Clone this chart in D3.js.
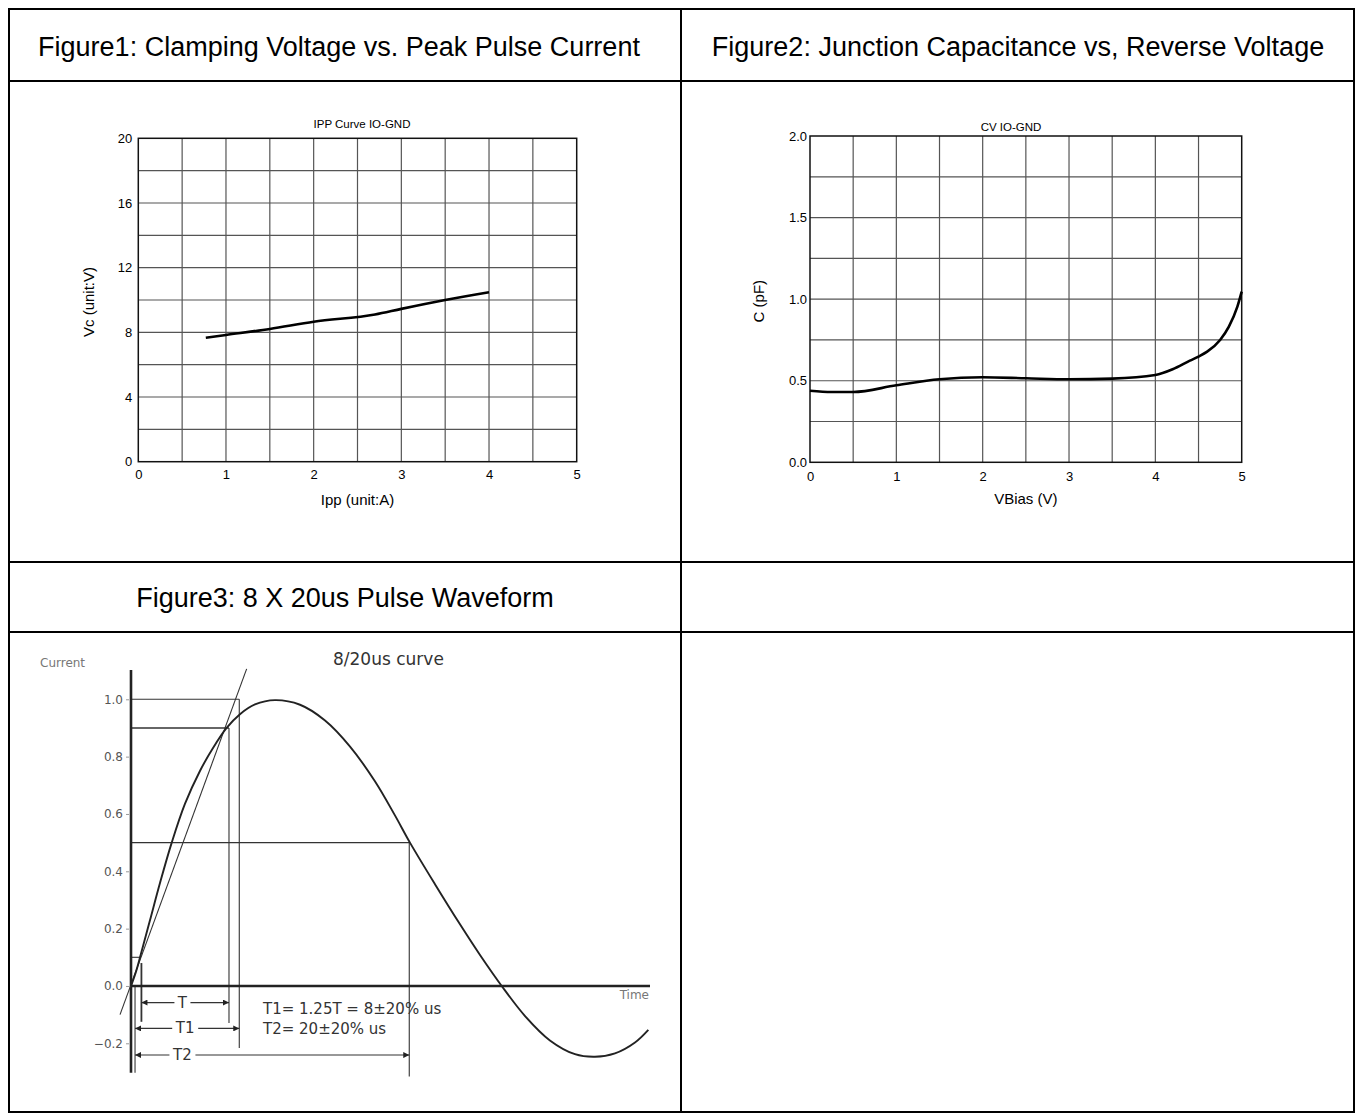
<!DOCTYPE html>
<html>
<head>
<meta charset="utf-8">
<script src="https://cdn.jsdelivr.net/npm/d3@7"></script>
<style>
  html, body { margin: 0; padding: 0; background: #fff; }
  svg { display: block; }
</style>
</head>
<body>
<script>
// ---------------- DATA ----------------
const headers = [
  "Figure1: Clamping Voltage vs. Peak Pulse Current",
  "Figure2: Junction Capacitance vs, Reverse Voltage",
  "Figure3: 8 X 20us Pulse Waveform"
];

// Figure 1
const fig1Ipp = [0.77, 1.0, 1.5, 2.0, 2.7, 3.0, 3.5, 4.0];
const fig1Vc  = [7.67, 7.84, 8.21, 8.66, 9.1, 9.45, 10.0, 10.48];
const fig1XTicks = [0, 1, 2, 3, 4, 5];
const fig1YTicks = [0, 4, 8, 12, 16, 20];
const fig1XGrid = [0.5, 1, 1.5, 2, 2.5, 3, 3.5, 4, 4.5];
const fig1YGrid = [2, 4, 6, 8, 10, 12, 14, 16, 18];

// Figure 2
const fig2V = [0, 0.25, 0.5, 1, 1.5, 2, 2.5, 3, 3.5, 4, 4.2, 4.4, 4.5, 4.6, 4.75, 4.85, 4.95, 5.0];
const fig2C = [0.439, 0.431, 0.431, 0.472, 0.509, 0.521, 0.515, 0.509, 0.513, 0.535, 0.57, 0.623, 0.648, 0.678, 0.75, 0.83, 0.954, 1.046];
const fig2XTicks = [0, 1, 2, 3, 4, 5];
const fig2YTicks = [0, 0.5, 1.0, 1.5, 2.0];
const fig2XGrid = [0.5, 1, 1.5, 2, 2.5, 3, 3.5, 4, 4.5];
const fig2YGrid = [0.25, 0.5, 0.75, 1.0, 1.25, 1.5, 1.75];

// Figure 3 (time in us, current normalised)
const waveT = [0, 0.36, 0.65, 1.37, 2.09, 2.93, 3.88, 4.96, 5.90, 6.88, 7.84, 8.92, 10.36,
               12.16, 13.96, 15.76, 17.55, 18.99, 20.07, 21.87, 23.67, 25.11, 26.67,
               28.35, 30.14, 31.94, 33.38, 34.82, 36.26, 37.22];
const waveI = [0, 0.05, 0.1, 0.23, 0.36, 0.5, 0.635, 0.75, 0.83, 0.9, 0.948, 0.982, 0.997,
               0.981, 0.926, 0.835, 0.714, 0.595, 0.5, 0.355, 0.215, 0.108, 0,
               -0.105, -0.19, -0.238, -0.247, -0.235, -0.197, -0.153];
const tangentT = [-0.79, 8.32];
const tangentI = [-0.1, 1.106];
const fig3YTicks = [1.0, 0.8, 0.6, 0.4, 0.2, 0.0, -0.2];
// reference horizontal levels
const levelI   = [1.0, 0.9, 0.5, 0.1];
const levelEnd = [7.79, 7.05, 20.02, 0.7];
// vertical reference lines
const vertT   = [7.79, 7.05, 0.75, 0.29, 20.02];
const vertTop = [1.0, 0.9, 0.08, 0.0, 0.5];
const vertBot = [-0.216, -0.129, -0.125, -0.303, -0.316];
// dimension arrows
const dimLabels = ["T", "T1", "T2"];
const dimI      = [-0.058, -0.148, -0.241];
const dimStart  = [0.75, 0.29, 0.29];
const dimEnd    = [7.05, 7.79, 20.02];
const dimLabelT = [3.7, 3.9, 3.7];
const notes = ["T1= 1.25T = 8\u00B120% us", "T2= 20\u00B120% us"];

// ---------------- DRAW ----------------
const W = 1357, H = 1117;
const svg = d3.select("body").append("svg").attr("width", W).attr("height", H);
svg.append("rect").attr("width", W).attr("height", H).attr("fill", "#fff");

// table frame
const tbl = svg.append("g").attr("stroke", "#000").attr("stroke-width", 2).attr("fill", "none");
tbl.append("rect").attr("x", 9).attr("y", 9).attr("width", 1345).attr("height", 1103);
tbl.append("line").attr("x1", 681).attr("x2", 681).attr("y1", 9).attr("y2", 1112);
[81, 562, 632].forEach(yv => tbl.append("line").attr("x1", 9).attr("x2", 1354).attr("y1", yv).attr("y2", yv));

const hdrPos = [[339, 47], [1018, 47], [345, 598]];
svg.selectAll("text.hdr").data(headers).join("text")
  .attr("class", "hdr")
  .attr("x", (d, i) => hdrPos[i][0]).attr("y", (d, i) => hdrPos[i][1])
  .attr("text-anchor", "middle").attr("dominant-baseline", "central")
  .attr("font-family", "Liberation Sans, Arial, sans-serif").attr("font-size", 27)
  .attr("fill", "#000").text(d => d);

function gridChart(cfg) {
  const x = d3.scaleLinear().domain(cfg.xDomain).range([cfg.x0, cfg.x1]);
  const y = d3.scaleLinear().domain(cfg.yDomain).range([cfg.y1, cfg.y0]);
  const g = svg.append("g").attr("font-family", "Liberation Sans, Arial, sans-serif");
  g.selectAll("line.vg").data(cfg.xGrid).join("line").attr("class", "vg")
    .attr("x1", d => x(d)).attr("x2", d => x(d)).attr("y1", cfg.y0).attr("y2", cfg.y1)
    .attr("stroke", "#555").attr("stroke-width", 1.2);
  g.selectAll("line.hg").data(cfg.yGrid).join("line").attr("class", "hg")
    .attr("y1", d => y(d)).attr("y2", d => y(d)).attr("x1", cfg.x0).attr("x2", cfg.x1)
    .attr("stroke", "#555").attr("stroke-width", 1.2);
  g.append("rect").attr("x", cfg.x0).attr("y", cfg.y0)
    .attr("width", cfg.x1 - cfg.x0).attr("height", cfg.y1 - cfg.y0)
    .attr("fill", "none").attr("stroke", "#111").attr("stroke-width", 1.5);

  const ax = g.append("g").attr("transform", `translate(0,${cfg.y1})`)
    .call(d3.axisBottom(x).tickValues(cfg.xTicks).tickSize(0).tickPadding(cfg.xPad).tickFormat(cfg.xFmt));
  ax.select(".domain").remove();
  const ay = g.append("g").attr("transform", `translate(${cfg.x0},0)`)
    .call(d3.axisLeft(y).tickValues(cfg.yTicks).tickSize(0).tickPadding(cfg.yPad).tickFormat(cfg.yFmt));
  ay.select(".domain").remove();
  g.selectAll(".tick text").attr("font-size", 13).attr("fill", "#000")
    .attr("font-family", "Liberation Sans, Arial, sans-serif");

  g.append("text").attr("x", cfg.titleX).attr("y", cfg.titleY)
    .attr("text-anchor", "middle").attr("dominant-baseline", "central")
    .attr("font-size", 11.5).attr("fill", "#000").text(cfg.title);
  g.append("text").attr("x", (cfg.x0 + cfg.x1) / 2).attr("y", cfg.xLabelY)
    .attr("text-anchor", "middle").attr("dominant-baseline", "central")
    .attr("font-size", 15).attr("fill", "#000").text(cfg.xLabel);
  g.append("text").attr("transform", `translate(${cfg.yLabelX},${(cfg.y0 + cfg.y1) / 2 + 2}) rotate(-90)`)
    .attr("text-anchor", "middle").attr("dominant-baseline", "central")
    .attr("font-size", 15).attr("fill", "#000").text(cfg.yLabel);

  const pts = cfg.xs.map((v, i) => [v, cfg.ys[i]]);
  g.append("path").datum(pts)
    .attr("d", d3.line().x(d => x(d[0])).y(d => y(d[1])).curve(d3.curveMonotoneX))
    .attr("fill", "none").attr("stroke", "#000").attr("stroke-width", 2.6)
    .attr("stroke-linejoin", "round");
}

gridChart({
  x0: 138.3, x1: 576.7, y0: 138.3, y1: 461.7,
  xDomain: [0, 5], yDomain: [0, 20],
  xGrid: fig1XGrid, yGrid: fig1YGrid, xTicks: fig1XTicks, yTicks: fig1YTicks,
  xFmt: d3.format("d"), yFmt: d3.format("d"), xPad: 8, yPad: 6,
  title: "IPP Curve IO-GND", titleX: 362, titleY: 124,
  xLabel: "Ipp (unit:A)", xLabelY: 499, yLabel: "Vc (unit:V)", yLabelX: 88,
  xs: fig1Ipp, ys: fig1Vc
});

gridChart({
  x0: 810, x1: 1241.7, y0: 136, y1: 462.3,
  xDomain: [0, 5], yDomain: [0, 2],
  xGrid: fig2XGrid, yGrid: fig2YGrid, xTicks: fig2XTicks, yTicks: fig2YTicks,
  xFmt: d3.format("d"), yFmt: d3.format(".1f"), xPad: 9, yPad: 3,
  title: "CV IO-GND", titleX: 1011, titleY: 127,
  xLabel: "VBias (V)", xLabelY: 498, yLabel: "C (pF)", yLabelX: 758,
  xs: fig2V, ys: fig2C
});

// ---------------- Figure 3 ----------------
const f3 = svg.append("g").attr("font-family", "DejaVu Sans, Verdana, sans-serif");
const tx = d3.scaleLinear().domain([0, 37.34]).range([131, 650]);
const iy = d3.scaleLinear().domain([-0.2, 1.0]).range([1043.3, 699.3]);

const defs = svg.append("defs");
defs.append("marker").attr("id", "arr").attr("viewBox", "0 0 10 10")
  .attr("refX", 10).attr("refY", 5).attr("markerWidth", 9).attr("markerHeight", 6)
  .attr("markerUnits", "userSpaceOnUse").attr("orient", "auto-start-reverse")
  .append("path").attr("d", "M0,0 L10,5 L0,10 z").attr("fill", "#222");

// reference horizontal levels
f3.selectAll("line.lvl").data(levelI).join("line").attr("class", "lvl")
  .attr("x1", tx(0)).attr("x2", (d, i) => tx(levelEnd[i]))
  .attr("y1", d => iy(d)).attr("y2", d => iy(d))
  .attr("stroke", "#333").attr("stroke-width", (d, i) => i === 1 ? 1.6 : 1.1);
// verticals
f3.selectAll("line.vt").data(vertT).join("line").attr("class", "vt")
  .attr("x1", d => tx(d)).attr("x2", d => tx(d))
  .attr("y1", (d, i) => iy(vertTop[i])).attr("y2", (d, i) => iy(vertBot[i]))
  .attr("stroke", "#333").attr("stroke-width", (d, i) => i === 2 ? 1.8 : 1.1);

// axes
f3.append("line").attr("x1", tx(0)).attr("x2", tx(0)).attr("y1", iy(1.102)).attr("y2", iy(-0.303))
  .attr("stroke", "#222").attr("stroke-width", 2.6);
f3.append("line").attr("x1", tx(0)).attr("x2", tx(37.34)).attr("y1", iy(0)).attr("y2", iy(0))
  .attr("stroke", "#222").attr("stroke-width", 2.6);

// tangent line
f3.append("line").attr("x1", tx(tangentT[0])).attr("y1", iy(tangentI[0]))
  .attr("x2", tx(tangentT[1])).attr("y2", iy(tangentI[1]))
  .attr("stroke", "#333").attr("stroke-width", 1.1);

// waveform
const wpts = waveT.map((t, i) => [t, waveI[i]]);
f3.append("path").datum(wpts)
  .attr("d", d3.line().x(d => tx(d[0])).y(d => iy(d[1])).curve(d3.curveCatmullRom.alpha(0.5)))
  .attr("fill", "none").attr("stroke", "#222").attr("stroke-width", 1.9);

// y tick labels
const yax = f3.append("g").attr("transform", `translate(${tx(0) - 2},0)`)
  .call(d3.axisLeft(iy).tickValues(fig3YTicks).tickSize(3).tickPadding(3).tickFormat(d3.format(".1f")));
yax.select(".domain").remove();
yax.selectAll(".tick line").attr("stroke", "#999");
yax.selectAll(".tick text").attr("font-size", 12).attr("fill", "#555")
  .attr("font-family", "DejaVu Sans, Verdana, sans-serif");

f3.append("text").attr("x", 40).attr("y", 663).attr("dominant-baseline", "central")
  .attr("font-size", 12).attr("fill", "#777").text("Current");
f3.append("text").attr("x", 649).attr("y", 995).attr("text-anchor", "end").attr("dominant-baseline", "central")
  .attr("font-size", 12).attr("fill", "#777").text("Time");
f3.append("text").attr("x", 333).attr("y", 659).attr("dominant-baseline", "central")
  .attr("font-size", 17).attr("fill", "#333").text("8/20us curve");

// dimension arrows
f3.selectAll("line.dim").data(dimI).join("line").attr("class", "dim")
  .attr("x1", (d, i) => tx(dimStart[i])).attr("x2", (d, i) => tx(dimEnd[i]))
  .attr("y1", d => iy(d)).attr("y2", d => iy(d))
  .attr("stroke", "#333").attr("stroke-width", 1.1)
  .attr("marker-start", "url(#arr)").attr("marker-end", "url(#arr)");
const dimG = f3.selectAll("g.dimlab").data(dimLabels).join("g").attr("class", "dimlab")
  .attr("transform", (d, i) => `translate(${tx(dimLabelT[i])},${iy(dimI[i])})`);
dimG.append("rect").attr("x", d => -(d.length * 5 + 3)).attr("y", -6)
  .attr("width", d => d.length * 10 + 6).attr("height", 12).attr("fill", "#fff");
dimG.append("text").attr("text-anchor", "middle").attr("dominant-baseline", "central")
  .attr("font-size", 15).attr("fill", "#333").text(d => d);

f3.selectAll("text.note").data(notes).join("text").attr("class", "note")
  .attr("x", 263).attr("y", (d, i) => [1009, 1029][i]).attr("dominant-baseline", "central")
  .attr("font-size", 15).attr("fill", "#333").text(d => d);
</script>
</body>
</html>
